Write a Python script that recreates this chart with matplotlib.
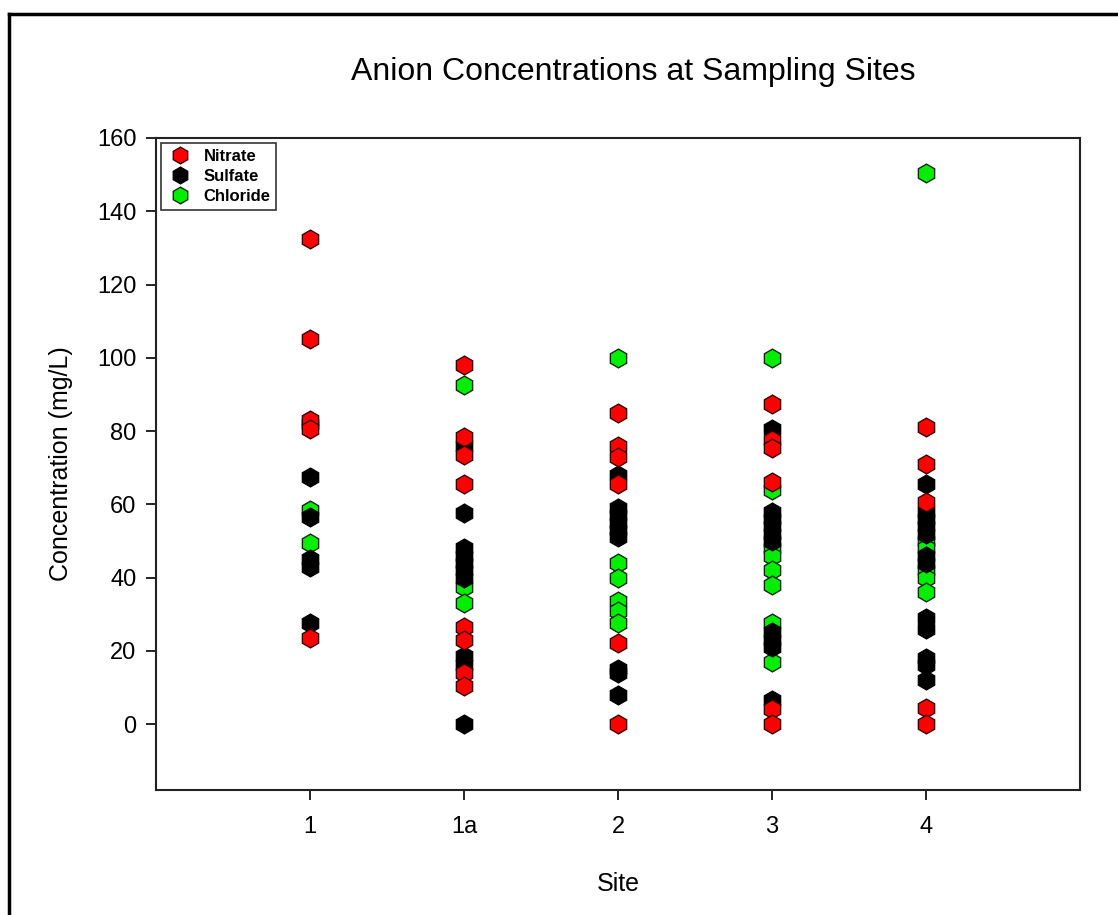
import matplotlib
matplotlib.use("Agg")
import matplotlib.pyplot as plt
from matplotlib.lines import Line2D

plt.rcParams['font.family'] = ['Liberation Sans', 'DejaVu Sans']

sites = ['1', '1a', '2', '3', '4']

# values per site (mg/L)
nitrate = [
    [132.5, 105, 83, 80.5, 23.5],
    [98, 78.5, 73.5, 65.5, 26.5, 23, 14, 10.5],
    [85, 76, 73, 65.5, 22, 0],
    [87.5, 77.5, 75.5, 66, 4, 0],
    [81, 71, 60.5, 4.5, 0],
]
sulfate = [
    [82, 67.5, 56.5, 45, 43, 27.5],
    [76, 57.5, 48, 46, 44, 42, 40, 18.5, 16, 0],
    [68, 59, 57, 55, 53, 51, 15, 14, 8],
    [80.5, 58, 56, 54, 52, 50, 25, 23, 21, 6.5],
    [65.5, 58, 56, 54, 52, 46, 44, 29, 26, 18, 16, 12],
]
chloride = [
    [58.5, 49.5],
    [92.5, 37.5, 33],
    [100, 44, 40, 33.5, 31, 27.5],
    [100, 64, 48, 46, 42, 38, 27.5, 17],
    [150.5, 50, 48, 42, 40, 36],
]

series = [
    ('Nitrate', nitrate, '#ff0000', '#3a0000', 3),
    ('Sulfate', sulfate, '#000000', '#000000', 2),
    ('Chloride', chloride, '#00ee00', '#0a2a0a', 1),
]

fig = plt.figure(figsize=(11.18, 9.15), dpi=100)
ax = fig.add_axes([0.1395, 0.1366, 0.8265, 0.7126])

handles = []
for name, data, fc, ec, z in series:
    xs, ys = [], []
    for i, vals in enumerate(data):
        xs += [i + 1] * len(vals)
        ys += vals
    ax.plot(xs, ys, linestyle='none', marker='h', markersize=13.5,
            markerfacecolor=fc, markeredgecolor=ec, markeredgewidth=1.0,
            zorder=z)
    handles.append(Line2D([], [], linestyle='none', marker='h', markersize=12,
                          markerfacecolor=fc, markeredgecolor=ec,
                          markeredgewidth=1.0, label=name))

ax.set_xlim(0, 6)
ax.set_ylim(-18, 160)
ax.set_xticks(range(1, 6))
ax.set_xticklabels(sites)
ax.set_yticks(range(0, 161, 20))
ax.tick_params(axis='both', direction='out', length=7, width=1.2,
               labelsize=17, top=False, right=False)
ax.tick_params(axis='x', pad=12)
ax.tick_params(axis='y', pad=7)
for s in ax.spines.values():
    s.set_linewidth(1.5)
    s.set_color('#222222')

ax.set_xlabel('Site', fontsize=18, labelpad=24)
ax.set_ylabel('Concentration (mg/L)', fontsize=18, labelpad=17)
fig.text(0.566, 0.921, 'Anion Concentrations at Sampling Sites',
         ha='center', va='center', fontsize=23)

leg = ax.legend(handles=handles, loc='upper left', fontsize=12,
                frameon=True, fancybox=False, borderpad=0.35,
                handletextpad=0.6, labelspacing=0.3, handlelength=1.6,
                borderaxespad=0.3)
leg.get_frame().set_edgecolor('black')
leg.get_frame().set_linewidth(1.2)
for t in leg.get_texts():
    t.set_fontweight('bold')

# outer frame of the exported figure
fig.add_artist(Line2D([9 / 1118, 9 / 1118], [0, 1 - 14 / 915],
                      transform=fig.transFigure, color='black', lw=2.5))
fig.add_artist(Line2D([9 / 1118, 1], [1 - 14 / 915, 1 - 14 / 915],
                      transform=fig.transFigure, color='black', lw=2.5))

fig.savefig('out.png', dpi=100)
